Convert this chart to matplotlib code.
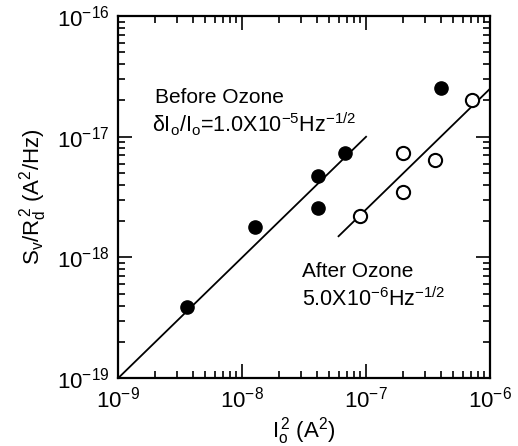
import numpy as np
from matplotlib import pyplot as plt
from matplotlib.ticker import LogLocator, NullFormatter

plt.rcParams['font.family'] = ['Liberation Sans', 'DejaVu Sans']
plt.rcParams['mathtext.fontset'] = 'custom'
plt.rcParams['mathtext.rm'] = 'Liberation Sans'
plt.rcParams['mathtext.it'] = 'Liberation Sans'
plt.rcParams['mathtext.default'] = 'regular'

# before ozone (filled)
before_x = [3.6e-9, 1.27e-8, 4.1e-8, 4.1e-8, 6.8e-8, 4.0e-7]
before_y = [3.9e-19, 1.8e-18, 4.7e-18, 2.56e-18, 7.3e-18, 2.53e-17]
# after ozone (open)
after_x = [8.9e-8, 2.0e-7, 2.0e-7, 3.6e-7, 7.2e-7]
after_y = [2.2e-18, 7.3e-18, 3.5e-18, 6.4e-18, 2.0e-17]

# fit lines: S = (dI/I)^2 * I^2
before_noise = 1.0e-5
after_noise = 5.0e-6
before_range = [1e-9, 1e-7]
after_range = [6e-8, 1e-6]

fig = plt.figure(figsize=(5.18, 4.46), dpi=100)
ax = fig.add_axes([0.228, 0.152, 0.718, 0.812])

bx = np.array(before_range)
ax.plot(bx, before_noise**2 * bx, color='black', lw=1.3)
axx = np.array(after_range)
ax.plot(axx, after_noise**2 * axx, color='black', lw=1.3)

ax.plot(before_x, before_y, 'o', color='black', ms=9.5)
ax.plot(after_x, after_y, 'o', mfc='white', mec='black', mew=1.5, ms=9.5)

ax.set_xscale('log')
ax.set_yscale('log')
ax.set_xlim(1e-9, 1e-6)
ax.set_ylim(1e-19, 1e-16)

ax.xaxis.set_major_locator(LogLocator(base=10, numticks=10))
ax.yaxis.set_major_locator(LogLocator(base=10, numticks=10))
ax.xaxis.set_minor_locator(LogLocator(base=10, subs=np.arange(2, 10), numticks=20))
ax.yaxis.set_minor_locator(LogLocator(base=10, subs=np.arange(2, 10), numticks=20))
ax.xaxis.set_minor_formatter(NullFormatter())
ax.yaxis.set_minor_formatter(NullFormatter())

ax.tick_params(which='both', direction='in', top=True, right=True, width=1.2)
ax.tick_params(which='major', length=10, labelsize=16, pad=6)
ax.tick_params(which='minor', length=5)
for s in ax.spines.values():
    s.set_linewidth(1.6)

ax.set_xlabel(r'$I_o^{\,2}$ (A$^2$)', fontsize=16, labelpad=2)
ax.set_ylabel(r'$S_v/R_d^{\,2}$ (A$^2$/Hz)', fontsize=16, labelpad=6)

fig.text(0.299, 0.769, 'Before Ozone', fontsize=15)
fig.text(0.293, 0.704, r'$\delta I_o/I_o$=1.0X10$^{-5}$Hz$^{-1/2}$', fontsize=15.5)
fig.text(0.583, 0.379, 'After Ozone', fontsize=15)
fig.text(0.583, 0.314, r'5.0X10$^{-6}$Hz$^{-1/2}$', fontsize=15.5)

plt.savefig('out.png', dpi=100)
